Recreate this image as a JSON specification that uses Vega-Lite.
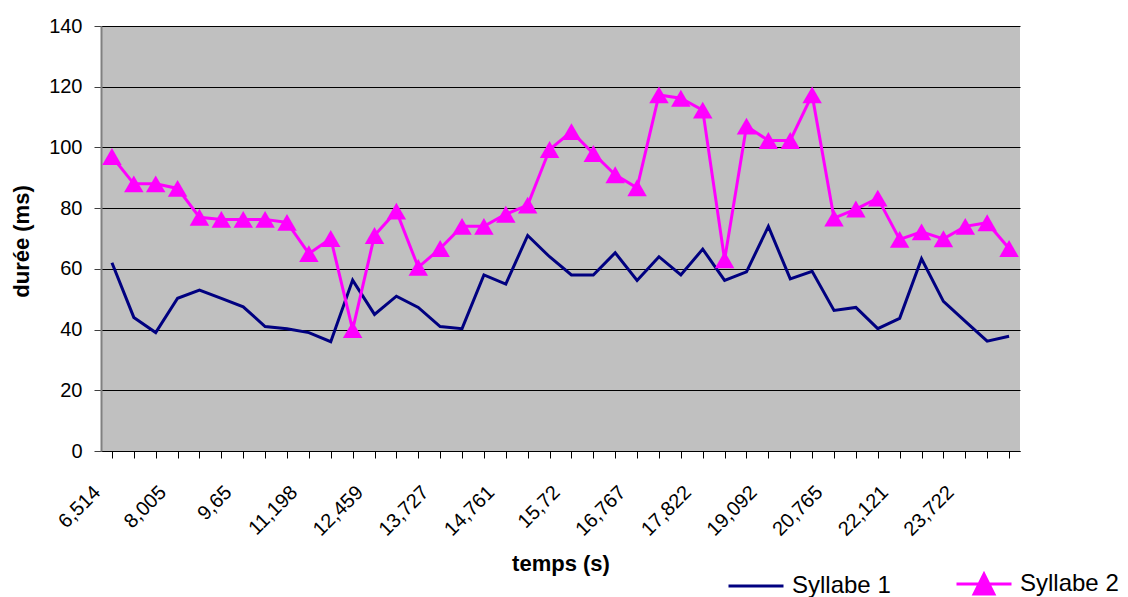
{
  "$schema": "https://vega.github.io/schema/vega-lite/v6.json",
  "autosize": "none",
  "width": 919,
  "height": 425,
  "padding": {"left": 101, "top": 26, "right": 108, "bottom": 146},
  "background": "white",
  "config": {
    "font": "Liberation Sans",
    "view": {"fill": "#C0C0C0", "stroke": null}
  },
  "data": {
    "values": [
      {"t": "6,514", "Syllabe 1": 62, "Syllabe 2": 97},
      {"t": "7,012", "Syllabe 1": 44, "Syllabe 2": 88},
      {"t": "7,498", "Syllabe 1": 39, "Syllabe 2": 88},
      {"t": "8,005", "Syllabe 1": 50.3, "Syllabe 2": 86.5},
      {"t": "8,553", "Syllabe 1": 53, "Syllabe 2": 77},
      {"t": "9,101", "Syllabe 1": 50.3, "Syllabe 2": 76.3},
      {"t": "9,65", "Syllabe 1": 47.5, "Syllabe 2": 76.3},
      {"t": "10,164", "Syllabe 1": 41, "Syllabe 2": 76.3},
      {"t": "10,689", "Syllabe 1": 40.3, "Syllabe 2": 75.3},
      {"t": "11,198", "Syllabe 1": 39, "Syllabe 2": 65},
      {"t": "11,617", "Syllabe 1": 36, "Syllabe 2": 70},
      {"t": "12,037", "Syllabe 1": 56.3, "Syllabe 2": 40},
      {"t": "12,459", "Syllabe 1": 45, "Syllabe 2": 71},
      {"t": "12,881", "Syllabe 1": 51, "Syllabe 2": 79},
      {"t": "13,302", "Syllabe 1": 47.3, "Syllabe 2": 60.5},
      {"t": "13,727", "Syllabe 1": 41, "Syllabe 2": 66.7},
      {"t": "14,071", "Syllabe 1": 40.3, "Syllabe 2": 74},
      {"t": "14,418", "Syllabe 1": 58, "Syllabe 2": 74},
      {"t": "14,761", "Syllabe 1": 55, "Syllabe 2": 78},
      {"t": "15,081", "Syllabe 1": 71, "Syllabe 2": 81},
      {"t": "15,401", "Syllabe 1": 64, "Syllabe 2": 99.3},
      {"t": "15,72", "Syllabe 1": 58, "Syllabe 2": 105.2},
      {"t": "16,069", "Syllabe 1": 58, "Syllabe 2": 98},
      {"t": "16,418", "Syllabe 1": 65.3, "Syllabe 2": 91},
      {"t": "16,767", "Syllabe 1": 56.2, "Syllabe 2": 86.7},
      {"t": "17,118", "Syllabe 1": 64, "Syllabe 2": 117.3},
      {"t": "17,470", "Syllabe 1": 58, "Syllabe 2": 116.2},
      {"t": "17,822", "Syllabe 1": 66.5, "Syllabe 2": 112.3},
      {"t": "18,245", "Syllabe 1": 56.2, "Syllabe 2": 63},
      {"t": "18,667", "Syllabe 1": 59, "Syllabe 2": 107},
      {"t": "19,092", "Syllabe 1": 74, "Syllabe 2": 102.3},
      {"t": "19,649", "Syllabe 1": 56.7, "Syllabe 2": 102.3},
      {"t": "20,207", "Syllabe 1": 59.2, "Syllabe 2": 117.3},
      {"t": "20,765", "Syllabe 1": 46.3, "Syllabe 2": 76.7},
      {"t": "21,217", "Syllabe 1": 47.3, "Syllabe 2": 79.7},
      {"t": "21,669", "Syllabe 1": 40.3, "Syllabe 2": 83.3},
      {"t": "22,121", "Syllabe 1": 43.7, "Syllabe 2": 69.7},
      {"t": "22,655", "Syllabe 1": 63.3, "Syllabe 2": 72.2},
      {"t": "23,189", "Syllabe 1": 49.3, "Syllabe 2": 69.9},
      {"t": "23,722", "Syllabe 1": 42.7, "Syllabe 2": 74},
      {"t": "24,256", "Syllabe 1": 36.2, "Syllabe 2": 75.2},
      {"t": "24,790", "Syllabe 1": 37.8, "Syllabe 2": 66.7}
    ]
  },
  "transform": [
    {"fold": ["Syllabe 1", "Syllabe 2"], "as": ["serie", "duree"]}
  ],
  "encoding": {
    "x": {
      "field": "t",
      "type": "nominal",
      "sort": null,
      "title": "temps (s)",
      "scale": {"paddingInner": 0, "paddingOuter": 0},
      "axis": {
        "bandPosition": 0,
        "labelExpr": "indexof(['6,514','8,005','9,65','11,198','12,459','13,727','14,761','15,72','16,767','17,822','19,092','20,765','22,121','23,722'], datum.value) >= 0 ? datum.value : ''",
        "labelAngle": -45,
        "labelAlign": "right",
        "labelBaseline": "middle",
        "labelFontSize": 20,
        "labelColor": "#000",
        "labelPadding": 31,
        "labelOffset": -15,
        "labelOverlap": false,
        "labelLimit": 0,
        "tickSize": 7,
        "tickColor": "#000",
        "domainColor": "#000",
        "domainWidth": 1,
        "grid": false,
        "titleFontSize": 22,
        "titleFontWeight": "bold",
        "titleColor": "#000",
        "titleY": 119,
        "titleBaseline": "alphabetic",
        "encode": {
          "labels": {
            "update": {
              "dx": {"value": -15.6},
              "dy": {"value": -5.7}
            }
          }
        }
      }
    },
    "y": {
      "field": "duree",
      "type": "quantitative",
      "title": "durée (ms)",
      "scale": {"domain": [0, 140], "nice": false},
      "axis": {
        "values": [0, 20, 40, 60, 80, 100, 120, 140],
        "grid": true,
        "gridColor": "#000",
        "gridWidth": 1,
        "gridOpacity": 1,
        "labelFontSize": 20,
        "labelColor": "#000",
        "labelPadding": 12,
        "tickSize": 7,
        "tickColor": "#404040",
        "domainColor": "#808080",
        "domainWidth": 2,
        "titleFontSize": 22,
        "titleFontWeight": "bold",
        "titleColor": "#000",
        "titleX": -73,
        "titleY": 215,
        "titleAngle": -90,
        "titleBaseline": "alphabetic"
      }
    },
    "color": {
      "field": "serie",
      "type": "nominal",
      "scale": {"domain": ["Syllabe 1", "Syllabe 2"], "range": ["#000080", "#FF00FF"]}
    }
  },
  "layer": [
    {
      "mark": {"type": "line", "strokeWidth": 3},
      "encoding": {
        "color": {
          "field": "serie",
          "type": "nominal",
          "scale": {"domain": ["Syllabe 1", "Syllabe 2"], "range": ["#000080", "#FF00FF"]},
          "legend": {
            "title": null,
            "orient": "none",
            "direction": "horizontal",
            "legendX": 626,
            "legendY": 529,
            "padding": 0,
            "symbolSize": 3025,
            "symbolStrokeWidth": 3,
            "labelFontSize": 24,
            "labelColor": "#000",
            "labelOffset": 7,
            "columnPadding": 59,
            "labelLimit": 0,
            "encode": {
              "symbols": {
                "update": {
                  "shape": {"signal": "datum.value === 'Syllabe 2' ? 'M-1,0H1M0,-0.36L0.36,0.36L-0.36,0.36Z' : 'stroke'"},
                  "fill": {"signal": "datum.value === 'Syllabe 2' ? '#FF00FF' : 'transparent'"},
                  "stroke": {"signal": "datum.value === 'Syllabe 2' ? '#FF00FF' : '#000080'"},
                  "strokeWidth": {"value": 3},
                  "opacity": {"value": 1}
                }
              }
            }
          }
        }
      }
    },
    {
      "transform": [{"filter": "datum.serie === 'Syllabe 2'"}],
      "mark": {"type": "point", "shape": "triangle-up", "filled": true, "size": 380, "opacity": 1},
      "encoding": {
        "color": {
          "field": "serie",
          "type": "nominal",
          "scale": {"domain": ["Syllabe 1", "Syllabe 2"], "range": ["#000080", "#FF00FF"]},
          "legend": null
        }
      }
    }
  ]
}
